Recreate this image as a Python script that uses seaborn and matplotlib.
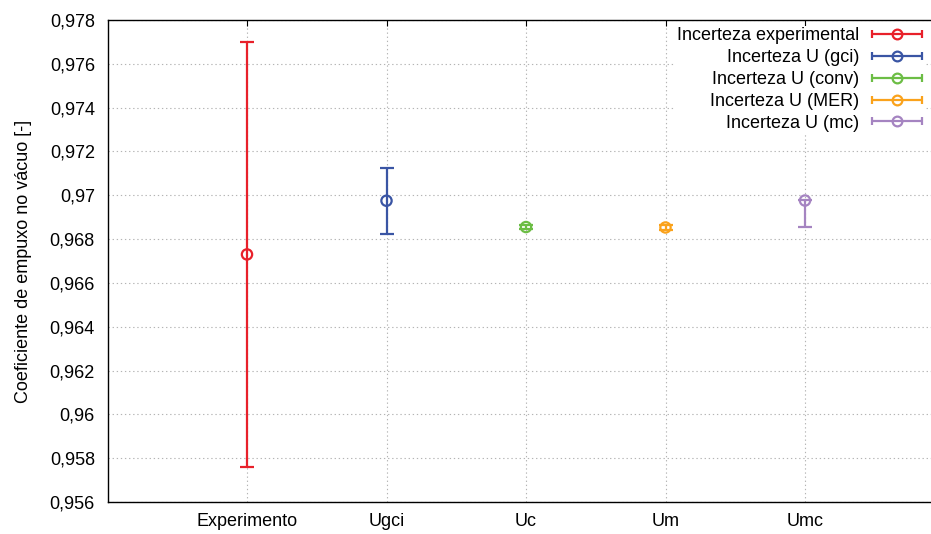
import numpy as np
import pandas as pd
import matplotlib
matplotlib.use("Agg")
import matplotlib.pyplot as plt
import seaborn as sns
from matplotlib.ticker import MultipleLocator, FuncFormatter
from matplotlib.container import ErrorbarContainer
from matplotlib.legend_handler import HandlerErrorbar

# ---- data ----
categories = ["Experimento", "Ugci", "Uc", "Um", "Umc"]
labels = ["Incerteza experimental", "Incerteza U (gci)", "Incerteza U (conv)",
          "Incerteza U (MER)", "Incerteza U (mc)"]
values = [0.9673, 0.96975, 0.96855, 0.96853, 0.96976]
lower = [0.9576, 0.96825, 0.96845, 0.96843, 0.96855]
upper = [0.9770, 0.97125, 0.96865, 0.96863, 0.96980]
colors = ["#e8202a", "#3a55a4", "#6cbd45", "#faa21b", "#a584c1"]

df = pd.DataFrame({"cat": categories, "pos": np.arange(1, len(categories) + 1),
                   "val": values, "lo": lower, "hi": upper, "label": labels})

sns.set_theme(style="white")
plt.rcParams["font.family"] = ["Liberation Sans", "DejaVu Sans"]
plt.rcParams["text.color"] = "black"
plt.rcParams["axes.labelcolor"] = "black"

FS = 13

fig = plt.figure(figsize=(9.31, 5.34), dpi=100)
ax = fig.add_axes([107.5 / 931, 1 - 502 / 534, 837 / 931, 482 / 534])

handles = []
for i, row in df.iterrows():
    c = colors[i]
    yerr = [[row["val"] - row["lo"]], [row["hi"] - row["val"]]]
    ax.errorbar([row["pos"]], [row["val"]], yerr=yerr, fmt="none", ecolor=c,
                elinewidth=1.6, capsize=5, capthick=1.6, zorder=3)
    # legend proxy with horizontal bar
    h = ax.errorbar([np.nan], [np.nan], xerr=[1], fmt="o", color=c, mfc="none",
                    mec=c, ms=7, mew=1.6, elinewidth=1.6, capsize=3, capthick=1.6,
                    label=row["label"])
    handles.append(h)

sns.scatterplot(data=df, x="pos", y="val", hue="cat", palette=colors, ax=ax,
                marker="o", s=55, legend=False, zorder=4, linewidth=1.6)
coll = ax.collections[-1]
coll.set_facecolor("none")
coll.set_edgecolor([matplotlib.colors.to_rgba(c) for c in colors])

ax.set_xlim(0, 6)
ax.set_ylim(0.956, 0.978)
ax.set_xticks(df["pos"])
ax.set_xticklabels(categories)
ax.yaxis.set_major_locator(MultipleLocator(0.002))
ax.yaxis.set_major_formatter(FuncFormatter(lambda v, p: ("%g" % round(v, 6)).replace(".", ",")))
ax.set_xlabel("")
ax.set_ylabel("Coeficiente de empuxo no vácuo [-]", fontsize=FS, labelpad=13)
ax.tick_params(axis="both", labelsize=FS, direction="in", length=4, width=0.8,
               top=True, right=True, colors="black")
ax.tick_params(axis="y", pad=9)
ax.tick_params(axis="x", pad=8)
ax.grid(True, linestyle=(0, (1.2, 2.5)), color="#b4b4b4", linewidth=0.8)
ax.set_axisbelow(True)
for s in ax.spines.values():
    s.set_color("black")
    s.set_linewidth(1.0)

leg = fig.legend(handles=handles, labels=labels, loc="upper right",
                 bbox_to_anchor=(924 / 931, 1 - 25.5 / 534), markerfirst=False,
                 fontsize=FS, frameon=True, framealpha=1, edgecolor="white",
                 facecolor="white", handlelength=2.77, handletextpad=0.7,
                 labelspacing=0.27, borderpad=0.1, borderaxespad=0,
                 handler_map={ErrorbarContainer: HandlerErrorbar(xerr_size=1.38)})
leg.get_frame().set_linewidth(0)

fig.savefig("out.png", dpi=100)
